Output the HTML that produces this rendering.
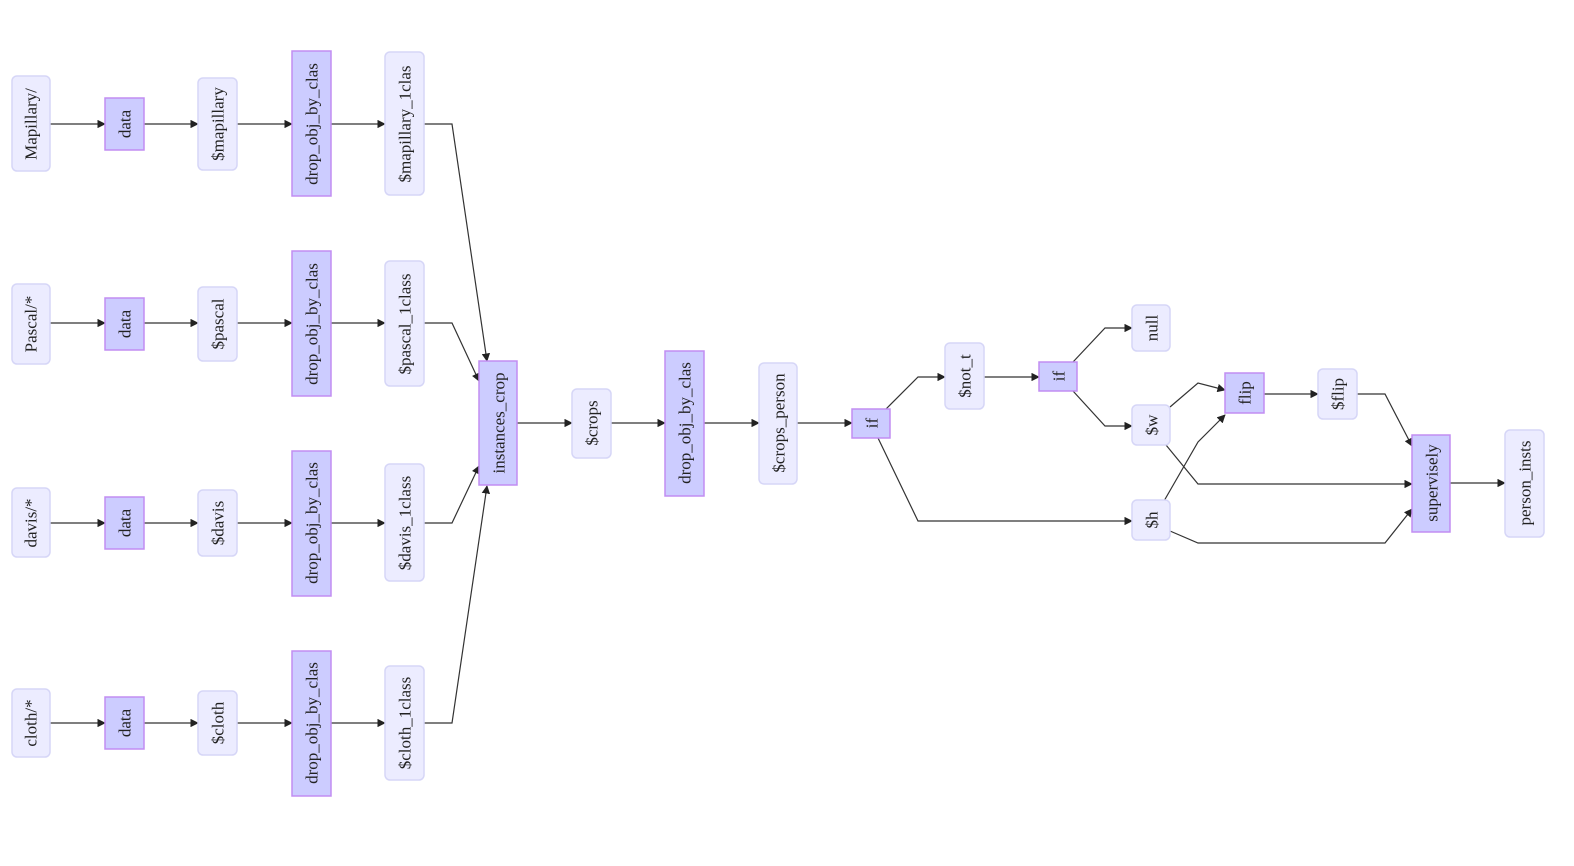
<!DOCTYPE html>
<html><head><meta charset="utf-8"><style>
html,body{margin:0;padding:0;background:#fff;}
svg{display:block}
text{font-family:"Liberation Serif",serif;font-size:17px;fill:#222;}
.r{fill:#ECECFF;stroke:#D6D6F7;stroke-width:1.5}
.p{fill:#CCCCFF;stroke:#C28DF2;stroke-width:1.5}
.e{fill:none;stroke:#333;stroke-width:1.2;marker-end:url(#a)}
</style></head><body>
<svg width="1574" height="866" viewBox="0 0 1574 866" xmlns="http://www.w3.org/2000/svg">
<defs><marker id="a" viewBox="0 0 10 10" refX="9" refY="5" markerWidth="7" markerHeight="7" orient="auto"><path d="M0,0L10,5L0,10z" fill="#222"/></marker></defs>
<g>
<path class="e" d="M50,124H105"/><path class="e" d="M144,124H198"/><path class="e" d="M237,124H292"/><path class="e" d="M331,124H385"/>
<path class="e" d="M50,323H105"/><path class="e" d="M144,323H198"/><path class="e" d="M237,323H292"/><path class="e" d="M331,323H385"/>
<path class="e" d="M50,523H105"/><path class="e" d="M144,523H198"/><path class="e" d="M237,523H292"/><path class="e" d="M331,523H385"/>
<path class="e" d="M50,723H105"/><path class="e" d="M144,723H198"/><path class="e" d="M237,723H292"/><path class="e" d="M331,723H385"/>
<path class="e" d="M424,124H452L487,361"/>
<path class="e" d="M424,323H452L479,381"/>
<path class="e" d="M424,523H452L479,466"/>
<path class="e" d="M424,723H452L487,486"/>
<path class="e" d="M517,423H572"/><path class="e" d="M611,423H665"/><path class="e" d="M704,423H759"/><path class="e" d="M797,423H852"/>
<path class="e" d="M886,409L918,377H945"/>
<path class="e" d="M878,438L918,521H1132"/>
<path class="e" d="M984,377H1039"/>
<path class="e" d="M1073,362L1105,328H1132"/>
<path class="e" d="M1073,391L1105,426H1132"/>
<path class="e" d="M1170,407L1198,383L1225,390"/>
<path class="e" d="M1164,501L1198,442L1225,415"/>
<path class="e" d="M1264,394H1318"/>
<path class="e" d="M1357,394H1385L1412,446"/>
<path class="e" d="M1166,445L1198,484H1412"/>
<path class="e" d="M1170,531L1198,543H1385L1412,509"/>
<path class="e" d="M1450,483H1505"/>
</g>
<g>
<rect class="r" x="12" y="76" width="38" height="95" rx="5"/>
<rect class="r" x="12" y="284" width="38" height="80" rx="5"/>
<rect class="r" x="12" y="488" width="38" height="69" rx="5"/>
<rect class="r" x="12" y="689" width="38" height="68" rx="5"/>
<rect class="p" x="105" y="98" width="39" height="52"/>
<rect class="p" x="105" y="298" width="39" height="52"/>
<rect class="p" x="105" y="497" width="39" height="52"/>
<rect class="p" x="105" y="697" width="39" height="52"/>
<rect class="r" x="198" y="78" width="39" height="92" rx="5"/>
<rect class="r" x="198" y="287" width="39" height="74" rx="5"/>
<rect class="r" x="198" y="490" width="39" height="66" rx="5"/>
<rect class="r" x="198" y="691" width="39" height="64" rx="5"/>
<rect class="p" x="292" y="51" width="39" height="145"/>
<rect class="p" x="292" y="251" width="39" height="145"/>
<rect class="p" x="292" y="451" width="39" height="145"/>
<rect class="p" x="292" y="651" width="39" height="145"/>
<rect class="r" x="385" y="52" width="39" height="143" rx="5"/>
<rect class="r" x="385" y="261" width="39" height="125" rx="5"/>
<rect class="r" x="385" y="464" width="39" height="117" rx="5"/>
<rect class="r" x="385" y="666" width="39" height="114" rx="5"/>
<rect class="p" x="479" y="361" width="38" height="124"/>
<rect class="r" x="572" y="389" width="39" height="69" rx="5"/>
<rect class="p" x="665" y="351" width="39" height="145"/>
<rect class="r" x="759" y="363" width="38" height="121" rx="5"/>
<rect class="p" x="852" y="409" width="38" height="29"/>
<rect class="r" x="945" y="343" width="39" height="66" rx="5"/>
<rect class="p" x="1039" y="362" width="38" height="29"/>
<rect class="r" x="1132" y="305" width="38" height="46" rx="5"/>
<rect class="r" x="1132" y="405" width="38" height="40" rx="5"/>
<rect class="r" x="1132" y="500" width="38" height="40" rx="5"/>
<rect class="p" x="1225" y="373" width="39" height="40"/>
<rect class="r" x="1318" y="369" width="39" height="50" rx="5"/>
<rect class="p" x="1412" y="435" width="38" height="97"/>
<rect class="r" x="1505" y="430" width="39" height="107" rx="5"/>
</g>
<g text-anchor="middle" dominant-baseline="central">
<text transform="translate(31,124) rotate(-90)">Mapillary/</text>
<text transform="translate(31,324) rotate(-90)">Pascal/*</text>
<text transform="translate(31,523) rotate(-90)">davis/*</text>
<text transform="translate(31,723) rotate(-90)">cloth/*</text>
<text transform="translate(125,124) rotate(-90)">data</text>
<text transform="translate(125,324) rotate(-90)">data</text>
<text transform="translate(125,523) rotate(-90)">data</text>
<text transform="translate(125,723) rotate(-90)">data</text>
<text transform="translate(218,124) rotate(-90)">$mapillary</text>
<text transform="translate(218,324) rotate(-90)">$pascal</text>
<text transform="translate(218,523) rotate(-90)">$davis</text>
<text transform="translate(218,723) rotate(-90)">$cloth</text>
<text transform="translate(312,124) rotate(-90)">drop_obj_by_clas</text>
<text transform="translate(312,324) rotate(-90)">drop_obj_by_clas</text>
<text transform="translate(312,523) rotate(-90)">drop_obj_by_clas</text>
<text transform="translate(312,723) rotate(-90)">drop_obj_by_clas</text>
<text transform="translate(405,124) rotate(-90)">$mapillary_1clas</text>
<text transform="translate(405,324) rotate(-90)">$pascal_1class</text>
<text transform="translate(405,523) rotate(-90)">$davis_1class</text>
<text transform="translate(405,723) rotate(-90)">$cloth_1class</text>
<text transform="translate(499,423) rotate(-90)">instances_crop</text>
<text transform="translate(592,423) rotate(-90)">$crops</text>
<text transform="translate(685,423) rotate(-90)">drop_obj_by_clas</text>
<text transform="translate(779,423) rotate(-90)">$crops_person</text>
<text transform="translate(872,423) rotate(-90)">if</text>
<text transform="translate(965,376) rotate(-90)">$not_t</text>
<text transform="translate(1059,376) rotate(-90)">if</text>
<text transform="translate(1152,328) rotate(-90)">null</text>
<text transform="translate(1152,425) rotate(-90)">$w</text>
<text transform="translate(1152,520) rotate(-90)">$h</text>
<text transform="translate(1245,393) rotate(-90)">flip</text>
<text transform="translate(1338,394) rotate(-90)">$flip</text>
<text transform="translate(1432,483) rotate(-90)">supervisely</text>
<text transform="translate(1525,483) rotate(-90)">person_insts</text>
</g>
</svg>
</body></html>
